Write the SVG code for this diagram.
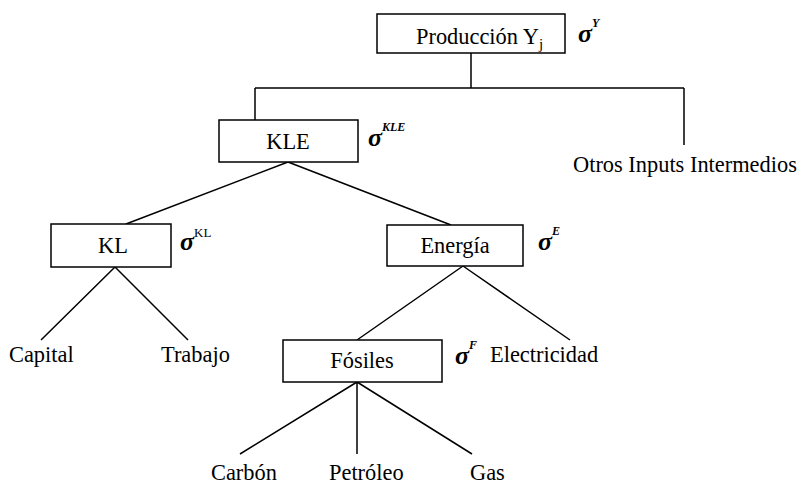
<svg xmlns="http://www.w3.org/2000/svg" width="799" height="484" viewBox="0 0 799 484">
<style>
.box{fill:#fff;stroke:#000;stroke-width:1.5}
.ln{stroke:#000;stroke-width:1.5;fill:none}
text{font-family:'Liberation Serif','Times New Roman',serif;fill:#000}
.t{font-size:22.4px}
.c{text-anchor:middle}
.sg{font-size:26px;font-style:italic;font-weight:bold}
.sup{font-size:12px;font-style:italic;font-weight:bold}
.supn{font-size:13px}
</style>
<rect width="799" height="484" fill="#fff"/>
<g id="connectors">
<path class="ln" d="M471,53V88M255,88H684M255,88V120M684,88V145"/>
<path class="ln" d="M288,162L126,224M288,162L451,225"/>
<path class="ln" d="M115,267L41,340M115,267L188,340"/>
<path class="ln" d="M463,266L357,340M463,266L570,340"/>
<path class="ln" d="M357,382L240,454M357,382V454M357,382L472,454"/>
</g>
<g id="produccion">
<rect class="box" x="377" y="14" width="188" height="39"/>
<text class="t" x="416" y="44">Producción Y<tspan font-size="15" dy="5">j</tspan></text>
<text class="sg" x="578" y="42">σ</text><text class="sup" x="592" y="27">Y</text>
</g>
<g id="otros"><text class="t" x="573" y="172">Otros Inputs Intermedios</text></g>
<g id="kle">
<rect class="box" x="219" y="120" width="139" height="42"/>
<text class="t c" x="288" y="149">KLE</text>
<text class="sg" x="368" y="146">σ</text><text class="sup" x="382" y="131">KLE</text>
</g>
<g id="kl">
<rect class="box" x="51" y="224" width="120" height="43"/>
<text class="t c" x="113" y="253">KL</text>
<text class="sg" x="180" y="250">σ</text><text class="supn" x="194" y="237">KL</text>
</g>
<g id="energia">
<rect class="box" x="387" y="225" width="136" height="41"/>
<text class="t c" x="455" y="253">Energía</text>
<text class="sg" x="538" y="250">σ</text><text class="sup" x="552" y="235">E</text>
</g>
<g id="capital"><text class="t" x="9" y="362">Capital</text></g>
<g id="trabajo"><text class="t" x="161" y="362">Trabajo</text></g>
<g id="fosiles">
<rect class="box" x="283" y="340" width="159" height="42"/>
<text class="t c" x="362" y="368">Fósiles</text>
<text class="sg" x="455" y="364">σ</text><text class="sup" x="469" y="349">F</text>
</g>
<g id="electricidad"><text class="t" x="490" y="362">Electricidad</text></g>
<g id="carbon"><text class="t" x="211" y="480">Carbón</text></g>
<g id="petroleo"><text class="t" x="329" y="480">Petróleo</text></g>
<g id="gas"><text class="t" x="470" y="480">Gas</text></g>
</svg>
